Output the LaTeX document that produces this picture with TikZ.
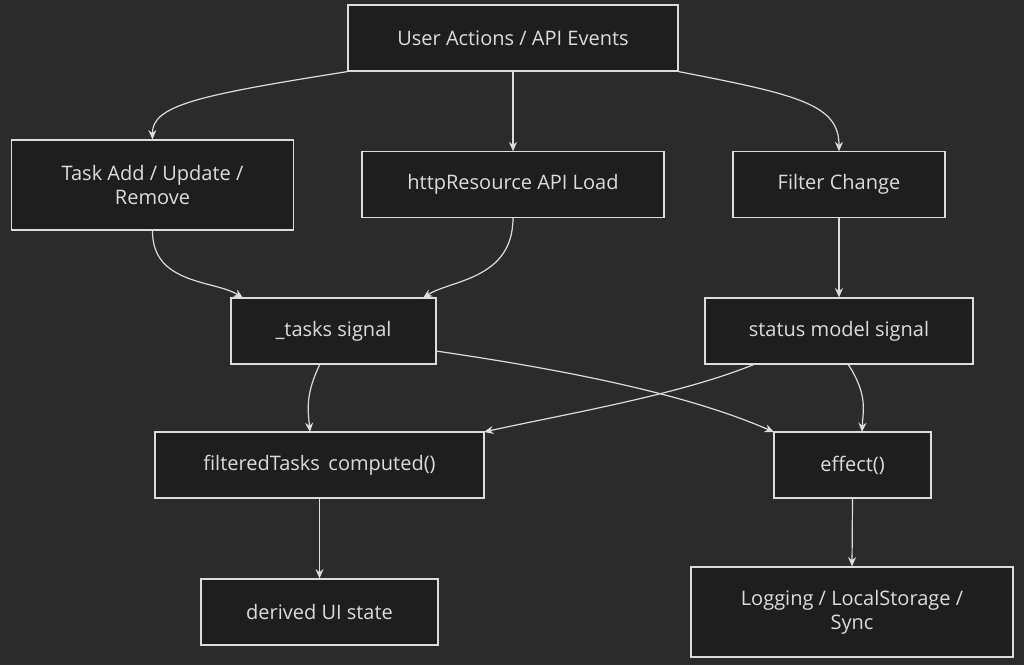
\documentclass[tikz,border=0pt]{standalone}
\usepackage{fontspec}
\setmainfont{Open Sans}
\usetikzlibrary{arrows.meta}
\definecolor{bg}{HTML}{2B2B2B}
\definecolor{boxfill}{HTML}{1E1E1E}
\definecolor{ln}{HTML}{DCDCDC}
\begin{document}
\begin{tikzpicture}[x=0.75pt,y=-0.75pt,
  box/.style={draw=ln,fill=boxfill,line width=0.9pt,text=ln,font=\fontsize{15}{18}\selectfont,align=center,inner sep=0pt},
  edge/.style={draw=ln,line width=0.9pt,-{Stealth[length=7pt,width=6pt]}}]
\fill[bg] (0,0) rectangle (1024,665);
\useasboundingbox (0,0) rectangle (1024,665);
\node[box,minimum width=247.5pt,minimum height=49.5pt] (ua) at (513,38) {User Actions / API Events};
\node[box,minimum width=212pt,minimum height=67.5pt] (ta) at (152.5,185) {Task Add / Update /\\Remove};
\node[box,minimum width=226.5pt,minimum height=49pt] (hr) at (513,184.5) {httpResource API Load};
\node[box,minimum width=159pt,minimum height=49pt] (fc) at (839,184.5) {Filter Change};
\node[box,minimum width=153.75pt,minimum height=49.5pt] (ts) at (333.5,331) {\_tasks signal};
\node[box,minimum width=201pt,minimum height=49.5pt] (sm) at (839,331) {status model signal};
\node[box,minimum width=246.75pt,minimum height=49.5pt] (ft) at (319.5,465) {filteredTasks\, computed()};
\node[box,minimum width=117.75pt,minimum height=49.5pt] (ef) at (852.5,465) {effect()};
\node[box,minimum width=177.75pt,minimum height=49.5pt] (du) at (319.5,612) {derived UI state};
\node[box,minimum width=241.5pt,minimum height=67.5pt] (lg) at (852,612) {Logging / LocalStorage /\\Sync};
\draw[edge] (ua.south west) .. controls (200,95) and (152,105) .. (ta.north);
\draw[edge] (ua.south) -- (hr.north);
\draw[edge] (ua.south east) .. controls (800,95) and (839,105) .. (fc.north);
\draw[edge] (ta.south) .. controls (152,285) and (215,280) .. (243,298);
\draw[edge] (hr.south) .. controls (513,280) and (450,280) .. (423,298);
\draw[edge] (fc.south) -- (sm.north);
\draw[edge] (320,364) .. controls (305,395) and (308,410) .. (310,432);
\draw[edge] (436,351) .. controls (600,375) and (700,400) .. (774,432);
\draw[edge] (755,364) .. controls (680,395) and (560,415) .. (484,432);
\draw[edge] (848,364) .. controls (868,395) and (863,410) .. (862,432);
\draw[edge] (ft.south) -- (du.north);
\draw[edge] (ef.south) -- (lg.north);
\end{tikzpicture}
\end{document}
